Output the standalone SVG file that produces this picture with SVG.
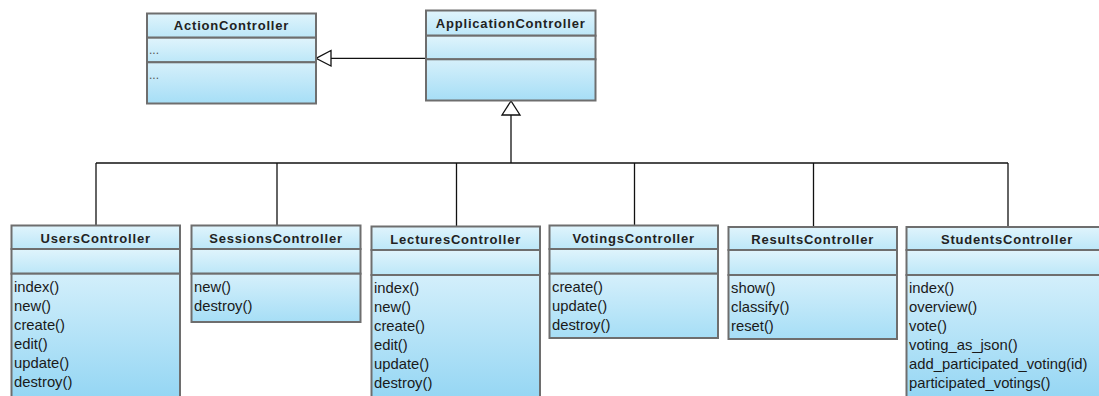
<svg xmlns="http://www.w3.org/2000/svg" width="1099" height="396" viewBox="0 0 1099 396">
<defs>
<linearGradient id="gs" x1="0" y1="0" x2="0" y2="1"><stop offset="0" stop-color="#e0f4fc"/><stop offset="1" stop-color="#bce7f8"/></linearGradient>
<linearGradient id="go" x1="0" y1="0" x2="0" y2="1"><stop offset="0" stop-color="#d3effb"/><stop offset="1" stop-color="#92d5f3"/></linearGradient>
<linearGradient id="gm" x1="0" y1="0" x2="0" y2="1"><stop offset="0" stop-color="#d6f0fb"/><stop offset="1" stop-color="#a6def6"/></linearGradient>
</defs>
<style>
.t{fill:url(#gs);stroke:#6e6e6e;stroke-width:2}
.o{fill:url(#go);stroke:#6e6e6e;stroke-width:2}
.m{fill:url(#gm);stroke:#6e6e6e;stroke-width:2}
.ti{font-family:"Liberation Sans",Arial,sans-serif;font-weight:bold;font-size:13px;letter-spacing:0.8px;fill:#222;text-anchor:middle}
.op{font-family:"Liberation Sans",Arial,sans-serif;font-size:14.8px;fill:#1a1a1a}
.dots{font-family:"Liberation Sans",Arial,sans-serif;font-size:12px;fill:#555}
.ln{fill:none;stroke:#111;stroke-width:1.3}
.hd{fill:#fff;stroke:#111;stroke-width:1.3}
</style>
<g id="connectors">
<line class="ln" x1="331" y1="58.3" x2="426" y2="58.3"/>
<polygon class="hd" points="316,58.3 331,50.5 331,66"/>
<line class="ln" x1="511" y1="115" x2="511" y2="163"/>
<polygon class="hd" points="511,101 502,115 520,115"/>
<line class="ln" x1="96" y1="163" x2="1008" y2="163"/>
<line class="ln" x1="96" y1="163" x2="96" y2="225"/>
<line class="ln" x1="277" y1="163" x2="277" y2="225"/>
<line class="ln" x1="456.5" y1="163" x2="456.5" y2="226"/>
<line class="ln" x1="634.5" y1="163" x2="634.5" y2="225"/>
<line class="ln" x1="813.5" y1="163" x2="813.5" y2="226.5"/>
<line class="ln" x1="1008" y1="163" x2="1008" y2="226.5"/>
</g>
<g id="ActionController">
<rect class="t" x="147" y="13.5" width="169" height="24.2"/>
<rect class="t" x="147" y="37.7" width="169" height="24.6"/>
<rect class="m" x="147" y="62.3" width="169" height="41.2"/>
<text class="ti" x="231.5" y="30">ActionController</text>
<text class="dots" x="149" y="54">...</text>
<text class="dots" x="149" y="79">...</text>
</g>
<g id="ApplicationController">
<rect class="t" x="426" y="10.5" width="169.5" height="25.2"/>
<rect class="t" x="426" y="35.7" width="169.5" height="23.6"/>
<rect class="m" x="426" y="59.3" width="169.5" height="41.2"/>
<text class="ti" x="510.7" y="28">ApplicationController</text>
</g>
<g id="UsersController">
<rect class="t" x="11.5" y="225.5" width="168.5" height="23.5"/>
<rect class="t" x="11.5" y="249" width="168.5" height="24.7"/>
<rect class="o" x="11.5" y="273.7" width="168.5" height="130"/>
<text class="ti" x="95.7" y="242.5">UsersController</text>
<text class="op" x="14" y="291.5">index()</text>
<text class="op" x="14" y="310.5">new()</text>
<text class="op" x="14" y="329.5">create()</text>
<text class="op" x="14" y="348.5">edit()</text>
<text class="op" x="14" y="367.5">update()</text>
<text class="op" x="14" y="386.5">destroy()</text>
</g>
<g id="SessionsController">
<rect class="t" x="191.5" y="225.5" width="169" height="23.5"/>
<rect class="t" x="191.5" y="249" width="169" height="24.7"/>
<rect class="m" x="191.5" y="273.7" width="169" height="48.3"/>
<text class="ti" x="276" y="242.5">SessionsController</text>
<text class="op" x="194" y="291.5">new()</text>
<text class="op" x="194" y="310.5">destroy()</text>
</g>
<g id="LecturesController">
<rect class="t" x="371.5" y="226.5" width="168.5" height="23.5"/>
<rect class="t" x="371.5" y="250" width="168.5" height="25"/>
<rect class="o" x="371.5" y="275" width="168.5" height="130"/>
<text class="ti" x="455.7" y="243.5">LecturesController</text>
<text class="op" x="374" y="292.5">index()</text>
<text class="op" x="374" y="311.5">new()</text>
<text class="op" x="374" y="330.5">create()</text>
<text class="op" x="374" y="349.5">edit()</text>
<text class="op" x="374" y="368.5">update()</text>
<text class="op" x="374" y="387.5">destroy()</text>
</g>
<g id="VotingsController">
<rect class="t" x="549.5" y="225.5" width="168.5" height="23.5"/>
<rect class="t" x="549.5" y="249" width="168.5" height="24.7"/>
<rect class="m" x="549.5" y="273.7" width="168.5" height="64.3"/>
<text class="ti" x="633.7" y="242.5">VotingsController</text>
<text class="op" x="552" y="291.5">create()</text>
<text class="op" x="552" y="310.5">update()</text>
<text class="op" x="552" y="329.5">destroy()</text>
</g>
<g id="ResultsController">
<rect class="t" x="728.5" y="227" width="168.5" height="23"/>
<rect class="t" x="728.5" y="250" width="168.5" height="25"/>
<rect class="m" x="728.5" y="275" width="168.5" height="64"/>
<text class="ti" x="812.7" y="243.5">ResultsController</text>
<text class="op" x="731" y="293">show()</text>
<text class="op" x="731" y="312">classify()</text>
<text class="op" x="731" y="331">reset()</text>
</g>
<g id="StudentsController">
<rect class="t" x="906.5" y="227" width="201" height="23"/>
<rect class="t" x="906.5" y="250" width="201" height="25"/>
<rect class="o" x="906.5" y="275" width="201" height="130"/>
<text class="ti" x="1007" y="243.5">StudentsController</text>
<text class="op" x="909" y="292.5">index()</text>
<text class="op" x="909" y="311.5">overview()</text>
<text class="op" x="909" y="330.5">vote()</text>
<text class="op" x="909" y="349.5">voting_as_json()</text>
<text class="op" x="909" y="368.5">add_participated_voting(id)</text>
<text class="op" x="909" y="387.5">participated_votings()</text>
</g>
</svg>
